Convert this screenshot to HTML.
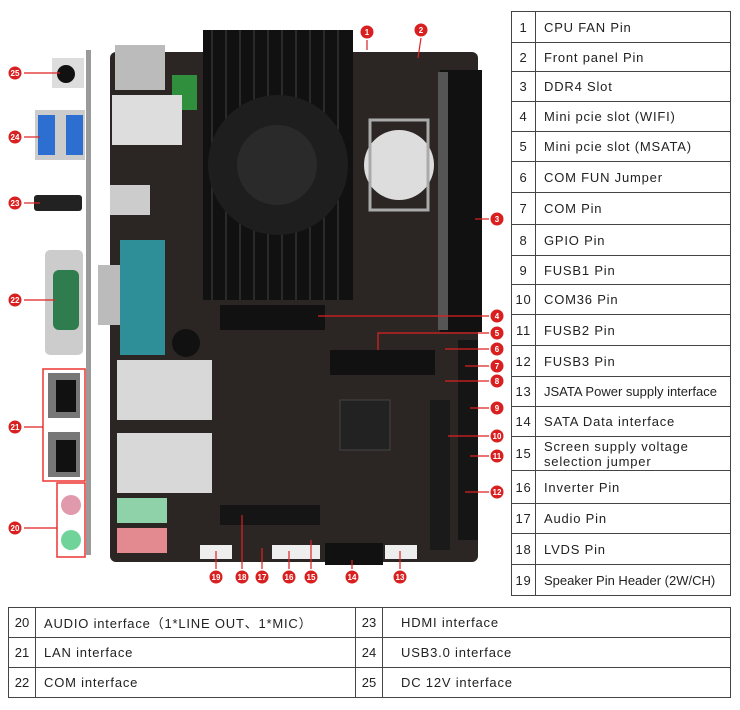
<!DOCTYPE html>
<html><head><meta charset="utf-8"><style>
body{margin:0;width:740px;height:710px;background:#fff;font-family:"Liberation Sans","Noto Sans CJK SC",sans-serif;overflow:hidden;position:relative}
table{border-collapse:collapse;position:absolute;font-size:13px;color:#222;letter-spacing:0.8px}
td{border:1.5px solid #444;padding:0 0 0 8px}
#rt{left:511px;top:11px;width:220px}
#rt td:first-child{width:23px;text-align:center;padding:0}
#bt{left:8px;top:607px;width:723px;table-layout:fixed}
#bt td{height:29px}
#bt td.n{width:26px;padding:0;text-align:center;letter-spacing:0}
</style></head><body>
<svg width="505" height="600" style="position:absolute;left:0;top:0">
<rect x="86" y="50" width="5" height="505" fill="#9a9a9a"/>
<rect x="52" y="58" width="32" height="30" fill="#ddd"/><circle cx="66" cy="74" r="9" fill="#111"/>
<rect x="35" y="110" width="50" height="50" fill="#ccc"/><rect x="38" y="115" width="17" height="40" fill="#2c6fd1"/><rect x="66" y="115" width="17" height="40" fill="#2c6fd1"/>
<rect x="34" y="195" width="48" height="16" rx="3" fill="#222"/>
<rect x="45" y="250" width="38" height="105" rx="5" fill="#ccc"/><rect x="53" y="270" width="26" height="60" rx="6" fill="#2f7d4e"/>
<rect x="43" y="369" width="42" height="112" fill="#fff" stroke="#e33" stroke-width="1.5"/>
<rect x="48" y="373" width="32" height="45" fill="#777"/><rect x="48" y="432" width="32" height="45" fill="#777"/>
<rect x="56" y="380" width="20" height="32" fill="#111"/><rect x="56" y="440" width="20" height="32" fill="#111"/>
<rect x="57" y="483" width="28" height="74" fill="#fff" stroke="#e33" stroke-width="1.5"/>
<circle cx="71" cy="505" r="10" fill="#e19aab"/><circle cx="71" cy="540" r="10" fill="#6fd39a"/>
<rect x="110" y="52" width="368" height="510" rx="6" fill="#2b2624"/>
<rect x="115" y="45" width="50" height="45" fill="#bbb"/><rect x="172" y="75" width="25" height="35" fill="#2f8f3c"/>
<rect x="112" y="95" width="70" height="50" fill="#ddd"/>
<rect x="110" y="185" width="40" height="30" fill="#ccc"/>
<rect x="98" y="265" width="30" height="60" fill="#bbb"/><rect x="120" y="240" width="45" height="115" fill="#2f8f99"/>
<circle cx="186" cy="343" r="14" fill="#111"/>
<rect x="117" y="360" width="95" height="60" fill="#d8d8d8"/><rect x="117" y="433" width="95" height="60" fill="#d8d8d8"/>
<rect x="117" y="498" width="50" height="25" fill="#8fd1a8"/><rect x="117" y="528" width="50" height="25" fill="#e28a8f"/>
<rect x="203" y="30" width="150" height="270" fill="#111"/>
<g stroke="#333" stroke-width="1.5"><line x1="212" y1="30" x2="212" y2="300"/><line x1="226" y1="30" x2="226" y2="300"/><line x1="240" y1="30" x2="240" y2="300"/><line x1="254" y1="30" x2="254" y2="300"/><line x1="268" y1="30" x2="268" y2="300"/><line x1="282" y1="30" x2="282" y2="300"/><line x1="296" y1="30" x2="296" y2="300"/><line x1="310" y1="30" x2="310" y2="300"/><line x1="324" y1="30" x2="324" y2="300"/><line x1="338" y1="30" x2="338" y2="300"/></g>
<circle cx="278" cy="165" r="70" fill="#1e1e1e"/><circle cx="277" cy="165" r="40" fill="#2a2a2a"/>
<rect x="440" y="70" width="42" height="262" fill="#111"/><rect x="438" y="72" width="10" height="258" fill="#555"/>
<circle cx="399" cy="165" r="35" fill="#ddd"/><rect x="370" y="120" width="58" height="90" fill="none" stroke="#aaa" stroke-width="3"/>
<rect x="220" y="305" width="105" height="25" fill="#111"/><rect x="330" y="350" width="105" height="25" fill="#111"/>
<rect x="340" y="400" width="50" height="50" fill="#222" stroke="#444"/>
<rect x="458" y="340" width="20" height="200" fill="#151515"/><rect x="430" y="400" width="20" height="150" fill="#1a1a1a"/>
<rect x="220" y="505" width="100" height="20" fill="#151515"/>
<rect x="200" y="545" width="32" height="14" fill="#eee"/><rect x="272" y="545" width="48" height="14" fill="#eee"/><rect x="385" y="545" width="32" height="14" fill="#eee"/><rect x="325" y="543" width="58" height="22" fill="#111"/>
<g stroke="#d22" stroke-width="1.2" fill="none">
<line x1="24" y1="73" x2="60" y2="73"/><line x1="24" y1="137" x2="40" y2="137"/><line x1="24" y1="203" x2="40" y2="203"/><line x1="24" y1="300" x2="55" y2="300"/><polyline points="24,427 43,427"/><polyline points="24,528 57,528"/>
<line x1="367" y1="40" x2="367" y2="50"/><line x1="421" y1="38" x2="418" y2="58"/>
<line x1="475" y1="219" x2="489" y2="219"/><line x1="318" y1="316" x2="489" y2="316"/><polyline points="378,350 378,333 489,333"/>
<line x1="445" y1="349" x2="489" y2="349"/><line x1="465" y1="366" x2="489" y2="366"/><line x1="445" y1="381" x2="489" y2="381"/><line x1="470" y1="408" x2="489" y2="408"/><line x1="448" y1="436" x2="489" y2="436"/><line x1="470" y1="456" x2="489" y2="456"/><line x1="465" y1="492" x2="489" y2="492"/>
<line x1="216" y1="551" x2="216" y2="569"/><line x1="242" y1="515" x2="242" y2="569"/><line x1="262" y1="548" x2="262" y2="569"/><line x1="289" y1="551" x2="289" y2="569"/><line x1="311" y1="540" x2="311" y2="569"/><line x1="352" y1="560" x2="352" y2="569"/><line x1="400" y1="551" x2="400" y2="569"/>
</g>
<g fill="#d92020" stroke="#fff" stroke-width="1">
<circle cx="367" cy="32" r="7"/><circle cx="421" cy="30" r="7"/><circle cx="497" cy="219" r="7"/><circle cx="497" cy="316" r="7"/><circle cx="497" cy="333" r="7"/><circle cx="497" cy="349" r="7"/><circle cx="497" cy="366" r="7"/><circle cx="497" cy="381" r="7"/><circle cx="497" cy="408" r="7"/><circle cx="497" cy="436" r="7"/><circle cx="497" cy="456" r="7"/><circle cx="497" cy="492" r="7"/>
<circle cx="400" cy="577" r="7"/><circle cx="352" cy="577" r="7"/><circle cx="311" cy="577" r="7"/><circle cx="289" cy="577" r="7"/><circle cx="262" cy="577" r="7"/><circle cx="242" cy="577" r="7"/><circle cx="216" cy="577" r="7"/>
<circle cx="15" cy="73" r="7"/><circle cx="15" cy="137" r="7"/><circle cx="15" cy="203" r="7"/><circle cx="15" cy="300" r="7"/><circle cx="15" cy="427" r="7"/><circle cx="15" cy="528" r="7"/>
</g>
<g fill="#fff" font-size="8" font-weight="bold" text-anchor="middle" font-family="Liberation Sans,sans-serif">
<text x="367" y="35">1</text><text x="421" y="33">2</text><text x="497" y="222">3</text><text x="497" y="319">4</text><text x="497" y="336">5</text><text x="497" y="352">6</text><text x="497" y="369">7</text><text x="497" y="384">8</text><text x="497" y="411">9</text><text x="497" y="439">10</text><text x="497" y="459">11</text><text x="497" y="495">12</text>
<text x="400" y="580">13</text><text x="352" y="580">14</text><text x="311" y="580">15</text><text x="289" y="580">16</text><text x="262" y="580">17</text><text x="242" y="580">18</text><text x="216" y="580">19</text>
<text x="15" y="76">25</text><text x="15" y="140">24</text><text x="15" y="206">23</text><text x="15" y="303">22</text><text x="15" y="430">21</text><text x="15" y="531">20</text>
</g>
</svg>
<table id="rt">
<tr style="height:31px"><td>1</td><td>CPU FAN Pin</td></tr>
<tr style="height:29px"><td>2</td><td>Front panel Pin</td></tr>
<tr style="height:30px"><td>3</td><td>DDR4 Slot</td></tr>
<tr style="height:30px"><td>4</td><td>Mini pcie slot (WIFI)</td></tr>
<tr style="height:30px"><td>5</td><td>Mini pcie slot (MSATA)</td></tr>
<tr style="height:31px"><td>6</td><td>COM FUN Jumper</td></tr>
<tr style="height:32px"><td>7</td><td>COM Pin</td></tr>
<tr style="height:31px"><td>8</td><td>GPIO Pin</td></tr>
<tr style="height:29px"><td>9</td><td>FUSB1 Pin</td></tr>
<tr style="height:30px"><td>10</td><td>COM36 Pin</td></tr>
<tr style="height:31px"><td>11</td><td>FUSB2 Pin</td></tr>
<tr style="height:31px"><td>12</td><td>FUSB3 Pin</td></tr>
<tr style="height:30px"><td>13</td><td style="letter-spacing:0">JSATA Power supply interface</td></tr>
<tr style="height:30px"><td>14</td><td>SATA Data interface</td></tr>
<tr style="height:34px"><td>15</td><td style="line-height:15px">Screen supply voltage<br>selection jumper</td></tr>
<tr style="height:33px"><td>16</td><td>Inverter Pin</td></tr>
<tr style="height:30px"><td>17</td><td>Audio Pin</td></tr>
<tr style="height:31px"><td>18</td><td>LVDS Pin</td></tr>
<tr style="height:31px"><td>19</td><td style="letter-spacing:0">Speaker Pin Header (2W/CH)</td></tr>
</table>
<table id="bt">
<colgroup><col style="width:27px"><col style="width:320px"><col style="width:27px"><col></colgroup>
<tr><td class="n">20</td><td>AUDIO interface（1*LINE OUT、1*MIC）</td><td class="n">23</td><td style="padding-left:18px">HDMI interface</td></tr>
<tr><td class="n">21</td><td>LAN interface</td><td class="n">24</td><td style="padding-left:18px">USB3.0 interface</td></tr>
<tr><td class="n">22</td><td>COM interface</td><td class="n">25</td><td style="padding-left:18px">DC 12V interface</td></tr>
</table>
</body></html>
